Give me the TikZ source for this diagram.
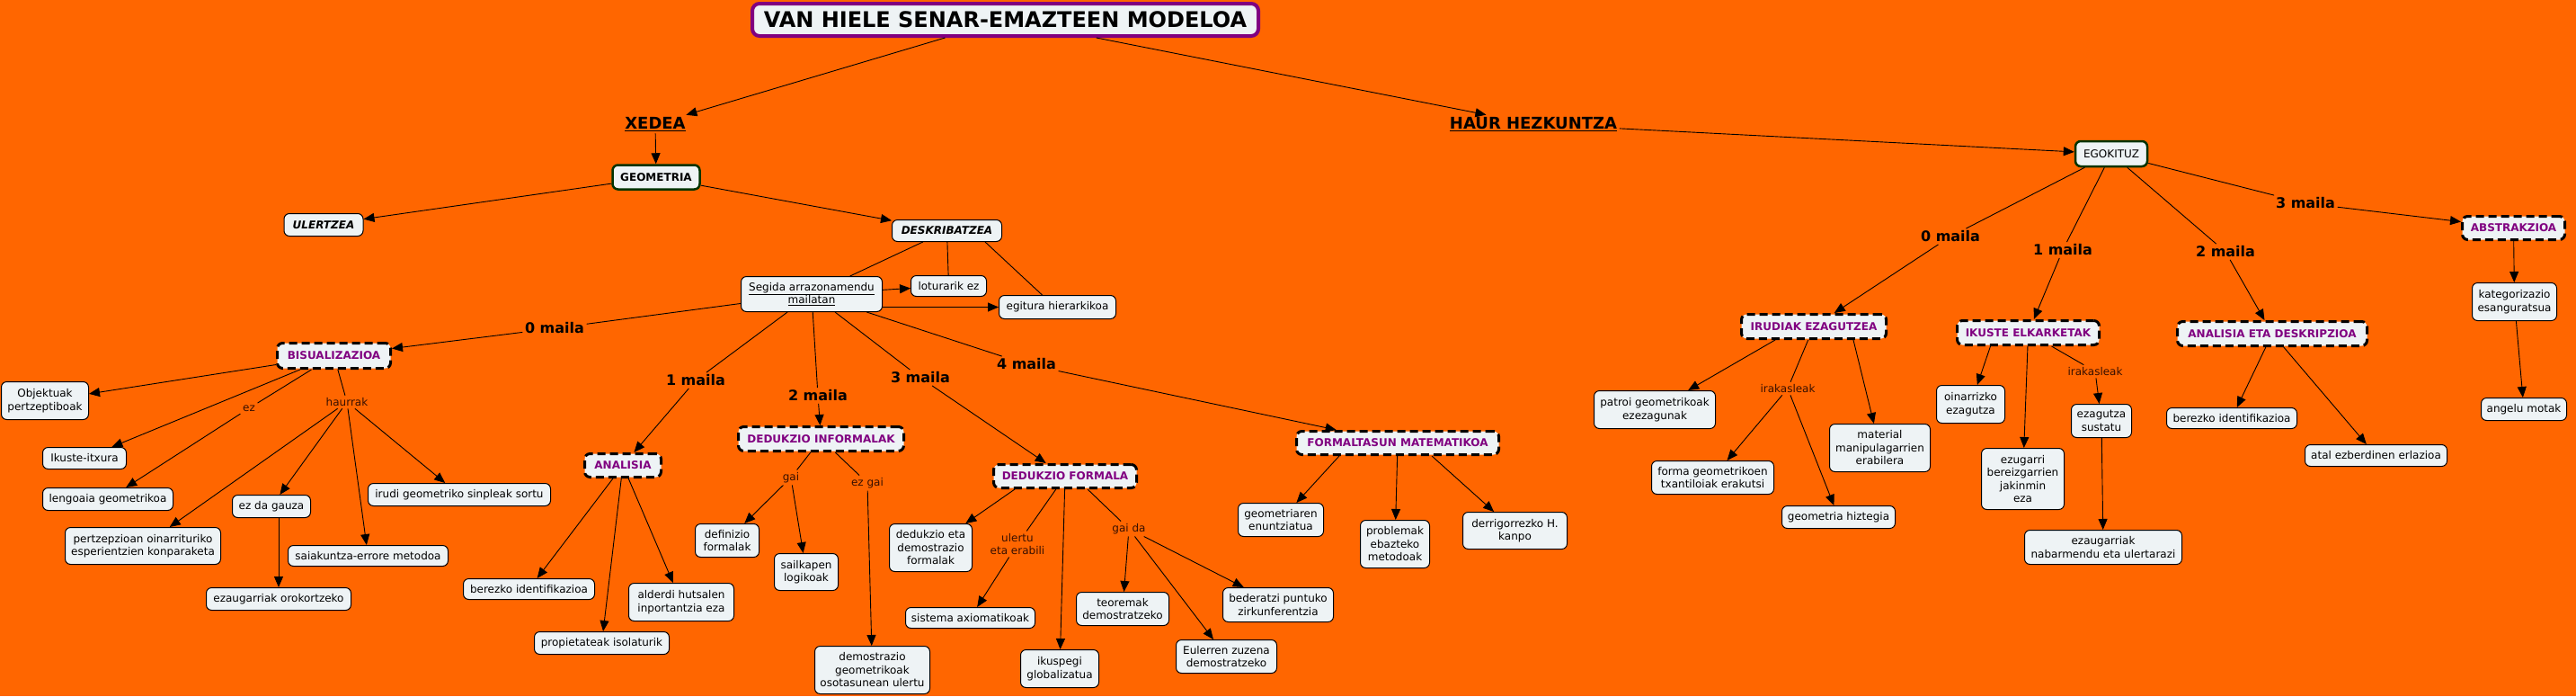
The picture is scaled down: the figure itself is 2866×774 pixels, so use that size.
\documentclass[tikz,border=0pt]{standalone}
\usepackage{fontspec}
\setmainfont{DejaVu Sans}[ItalicFont={DejaVu Sans Oblique},BoldFont={DejaVu Sans Bold},BoldItalicFont={DejaVu Sans Bold Oblique}]
\usetikzlibrary{arrows.meta}
\definecolor{bgor}{RGB}{255,102,0}
\definecolor{nodefill}{RGB}{238,243,245}
\definecolor{purp}{RGB}{128,0,128}
\definecolor{dgreen}{RGB}{0,51,0}
\definecolor{lblc}{RGB}{55,15,0}
\newcommand\myfn{\fontsize{12}{14.5}\selectfont}
\newcommand\myfm{\fontsize{16}{18}\selectfont\bfseries}
\newcommand\myfh{\fontsize{18}{20}\selectfont\bfseries}
\newcommand\myft{\fontsize{24}{28}\selectfont\bfseries}
\tikzset{
 base/.style={draw=black, fill=nodefill, rounded corners=6pt, line width=1pt, inner sep=2pt, align=center, font=\myfn, text=black},
 cbox/.style={base},
 dbox/.style={base, line width=3pt, dash pattern=on 9pt off 5pt, font=\myfn\bfseries, text=purp},
 gbox/.style={base, draw=dgreen, line width=2.5pt},
 lab/.style={inner sep=2.5pt, font=\myfn, text=lblc, align=center},
 mlab/.style={inner sep=2.5pt, font=\myfm, text=black},
 hlab/.style={inner sep=2.5pt, font=\myfh, text=black},
 arr/.style={line width=0.9pt, -{Triangle[length=12pt,width=10pt]}},
 ln/.style={line width=0.9pt},
 sz/.style 2 args={minimum width=#1pt, minimum height=#2pt},
}
\begin{document}
\begin{tikzpicture}[x=1pt,y=-1pt]
\useasboundingbox (0,0) rectangle (2866,774);
\fill[bgor] (0,0) rectangle (2866,774);

% ---------- top ----------
\node[base, draw=purp, line width=4pt, rounded corners=8pt, sz={563}{36}, font=\myft] (title) at (1118.5,22) {VAN HIELE SENAR-EMAZTEEN MODELOA};
\node[hlab] (xedea) at (729,138) {\underline{XEDEA}};
\node[hlab] (haur) at (1706,138) {\underline{HAUR HEZKUNTZA}};

% ---------- left branch ----------
\node[gbox, font=\myfn\bfseries, sz={97}{27}] (geo) at (730,197) {GEOMETRIA};
\node[cbox, font=\myfn\bfseries\itshape, sz={88}{25}] (ulertzea) at (360,250) {ULERTZEA};
\node[cbox, font=\myfn\bfseries\itshape, sz={122}{24}] (desk) at (1053.5,256.5) {DESKRIBATZEA};
\node[cbox, sz={157}{39}] (segida) at (903,327) {\underline{Segida arrazonamendu}\\\underline{mailatan}};
\node[cbox, sz={84}{23}] (loturarik) at (1055.5,318) {loturarik ez};
\node[cbox, sz={130}{26}] (egitura) at (1176.5,341.5) {egitura hierarkikoa};

\node[dbox, sz={126}{28}] (bis) at (371.5,395.5) {BISUALIZAZIOA};
\node[cbox, sz={97}{42}] (objektuak) at (50,445.5) {Objektuak\\pertzeptiboak};
\node[cbox, sz={93}{24}] (ikusteitx) at (94,509.5) {Ikuste-itxura};
\node[cbox, sz={145}{25}] (lengoaia) at (120,555) {lengoaia geometrikoa};
\node[cbox, sz={173}{41}] (pertzepzioan) at (159,607) {pertzepzioan oinarrituriko\\esperientzien konparaketa};
\node[cbox, sz={87}{25}] (ezda) at (302,563) {ez da gauza};
\node[cbox, sz={161}{25}] (ezaugorok) at (310,666) {ezaugarriak orokortzeko};
\node[cbox, sz={178}{23}] (saiakuntza) at (409.5,618) {saiakuntza-errore metodoa};
\node[cbox, sz={203}{25}] (irudi) at (511,550) {irudi geometriko sinpleak sortu};

\node[dbox, sz={85}{26}] (analisia) at (693,517.5) {ANALISIA};
\node[cbox, sz={146}{23}] (berezkoL) at (588.5,655) {berezko identifikazioa};
\node[cbox, sz={150}{25}] (propietateak) at (669.5,715) {propietateak isolaturik};
\node[cbox, sz={117}{42}] (alderdi) at (758,669.5) {alderdi hutsalen\\inportantzia eza};

\node[dbox, sz={184}{27}] (di) at (913.5,488) {DEDUKZIO INFORMALAK};
\node[cbox, sz={71}{37}] (definizio) at (809,601) {definizio\\formalak};
\node[cbox, sz={71}{41}] (sailkapen) at (897,636) {sailkapen\\logikoak};
\node[cbox, sz={128}{53}] (demostrazio) at (970.5,745) {demostrazio\\geometrikoak\\osotasunean ulertu};

\node[dbox, sz={159}{26}] (df) at (1185,529.5) {DEDUKZIO FORMALA};
\node[cbox, sz={92}{53}] (dedukzio) at (1035.5,609) {dedukzio eta\\demostrazio\\formalak};
\node[cbox, sz={144}{23}] (sistema) at (1079.5,687) {sistema axiomatikoak};
\node[cbox, sz={87}{42}] (ikuspegi) at (1179,743.5) {ikuspegi\\globalizatua};
\node[cbox, sz={103}{37}] (teoremak) at (1249,677) {teoremak\\demostratzeko};
\node[cbox, sz={112}{37}] (eulerren) at (1364.5,730) {Eulerren zuzena\\demostratzeko};
\node[cbox, sz={123}{38}] (bederatzi) at (1422,672.5) {bederatzi puntuko\\zirkunferentzia};

\node[dbox, sz={225}{26}] (fm) at (1555,492.5) {FORMALTASUN MATEMATIKOA};
\node[cbox, sz={95}{37}] (geometriaren) at (1425,578) {geometriaren\\enuntziatua};
\node[cbox, sz={77}{53}] (problemak) at (1552,605) {problemak\\ebazteko\\metodoak};
\node[cbox, sz={116}{41}] (derrigorrezko) at (1685.5,590) {derrigorrezko H.\\kanpo};

% ---------- right branch ----------
\node[gbox, sz={80}{28}] (egokituz) at (2349,171) {EGOKITUZ};
\node[dbox, sz={161}{27}] (irudiak) at (2018,363) {IRUDIAK EZAGUTZEA};
\node[cbox, sz={135}{42}] (patroi) at (1841,455.5) {patroi geometrikoak\\ezezagunak};
\node[cbox, sz={136}{37}] (forma) at (1905.5,531) {forma geometrikoen\\txantiloiak erakutsi};
\node[cbox, sz={126}{25}] (hiztegia) at (2045.5,575) {geometria hiztegia};
\node[cbox, sz={112}{53}] (material) at (2091.5,498) {material\\manipulagarrien\\erabilera};

\node[dbox, sz={158}{27}] (ikuste) at (2256.5,370) {IKUSTE ELKARKETAK};
\node[cbox, sz={76}{42}] (oinarrizko) at (2192.5,449.5) {oinarrizko\\ezagutza};
\node[cbox, sz={92}{68}] (ezugarri) at (2250.5,532.5) {ezugarri\\bereizgarrien\\jakinmin\\eza};
\node[cbox, sz={67}{37}] (sustatu) at (2338,468) {ezagutza\\sustatu};
\node[cbox, sz={175}{38}] (nabarmendu) at (2340,608.5) {ezaugarriak\\nabarmendu eta ulertarazi};

\node[dbox, sz={211}{27}] (aed) at (2528,371) {ANALISIA ETA DESKRIPZIOA};
\node[cbox, sz={145}{23}] (berezkoR) at (2483,465) {berezko identifikazioa};
\node[cbox, sz={158}{24}] (atal) at (2643.5,506.5) {atal ezberdinen erlazioa};

\node[dbox, sz={114}{26}] (abs) at (2796.5,253.5) {ABSTRAKZIOA};
\node[cbox, sz={94}{42}] (kategorizazio) at (2797.5,335.5) {kategorizazio\\esanguratsua};
\node[cbox, sz={95}{25}] (angelu) at (2808,455) {angelu motak};

% ---------- link labels ----------
\node[mlab] (m0L) at (617,365) {0 maila};
\node[mlab] (m1L) at (774,423) {1 maila};
\node[mlab] (m2L) at (910,440) {2 maila};
\node[mlab] (m3L) at (1024,420) {3 maila};
\node[mlab] (m4L) at (1142,405) {4 maila};
\node[lab] (ezlab) at (277,454) {ez};
\node[lab] (haurrak) at (386,447) {haurrak};
\node[lab] (gai) at (880,531) {gai};
\node[lab] (ezgai) at (965,537) {ez gai};
\node[lab] (ulertu) at (1132,605) {ulertu\\eta erabili};
\node[lab] (gaida) at (1256,588) {gai da};
\node[mlab] (m0R) at (2170,263) {0 maila};
\node[mlab] (m1R) at (2295,278) {1 maila};
\node[mlab] (m2R) at (2476,280) {2 maila};
\node[mlab] (m3R) at (2565,226) {3 maila};
\node[lab] (irak1) at (1989,432) {irakasleak};
\node[lab] (irak2) at (2331,413) {irakasleak};

% ---------- connectors ----------
\draw[arr] (title) -- (xedea);
\draw[arr] (title) -- (haur);
\draw[arr] (xedea) -- (geo);
\draw[arr] (geo) -- (ulertzea);
\draw[arr] (geo) -- (desk);
\draw[ln] (desk) -- (segida);
\draw[ln] (desk) -- (loturarik);
\draw[ln] ([xshift=-19pt]desk.south east) -- ([xshift=-17pt]egitura.north);
\draw[arr] (segida) -- (loturarik);
\draw[arr] (segida.east |- egitura.west) -- (egitura.west);

\draw[ln] (segida) -- (m0L);  \draw[arr] (m0L) -- (bis);
\draw[ln] (segida) -- (m1L);  \draw[arr] (m1L) -- (analisia);
\draw[ln] (segida) -- (m2L);  \draw[arr] (m2L) -- (di);
\draw[ln] (segida) -- (m3L);  \draw[arr] (m3L) -- (df);
\draw[ln] (segida) -- (m4L);  \draw[arr] (m4L) -- (fm);

\draw[arr] (bis) -- (objektuak);
\draw[arr] (bis) -- (ikusteitx);
\draw[ln] (bis) -- (ezlab);  \draw[arr] (ezlab) -- (lengoaia);
\draw[ln] (bis) -- (haurrak);
\draw[arr] (haurrak) -- (pertzepzioan);
\draw[arr] (haurrak) -- (ezda);
\draw[arr] (haurrak) -- (saiakuntza);
\draw[arr] (haurrak) -- (irudi);
\draw[arr] (ezda.south -| ezaugorok.north) -- (ezaugorok.north);

\draw[arr] (analisia) -- (berezkoL);
\draw[arr] (analisia) -- (propietateak);
\draw[arr] (analisia) -- (alderdi);

\draw[ln] (di) -- (gai);
\draw[arr] (gai) -- (definizio);
\draw[arr] (gai) -- (sailkapen);
\draw[ln] (di) -- (ezgai);
\draw[arr] (ezgai) -- (demostrazio);

\draw[arr] ([xshift=-56pt]df.south) -- (dedukzio);
\draw[ln] (df) -- (ulertu);  \draw[arr] (ulertu) -- (sistema);
\draw[arr] (df) -- (ikuspegi);
\draw[ln] ([xshift=25pt]df.south) -- (gaida);
\draw[arr] (gaida) -- (teoremak);
\draw[arr] (gaida) -- (eulerren);
\draw[arr] (gaida) -- (bederatzi);

\draw[arr] ([xshift=-65pt]fm.south) -- (geometriaren);
\draw[arr] (fm) -- (problemak);
\draw[arr] ([xshift=38pt]fm.south) -- (derrigorrezko);

\draw[arr] (haur) -- (egokituz);
\draw[ln] (egokituz) -- (m0R);  \draw[arr] (m0R) -- (irudiak);
\draw[ln] (egokituz) -- (m1R);  \draw[arr] (m1R) -- (ikuste);
\draw[ln] (egokituz) -- (m2R);  \draw[arr] (m2R) -- (aed);
\draw[ln] (egokituz) -- (m3R);  \draw[arr] (m3R) -- (abs);

\draw[arr] ([xshift=-43pt]irudiak.south) -- (patroi);
\draw[ln] (irudiak) -- (irak1);
\draw[arr] (irak1) -- (forma);
\draw[arr] (irak1) -- (hiztegia);
\draw[arr] ([xshift=44pt]irudiak.south) -- (material);

\draw[arr] ([xshift=-42pt]ikuste.south) -- (oinarrizko);
\draw[arr] (ikuste) -- (ezugarri);
\draw[ln] (ikuste) -- (irak2);
\draw[arr] (irak2) -- (sustatu);
\draw[arr] (sustatu) -- (nabarmendu);

\draw[arr] (aed) -- (berezkoR);
\draw[arr] (aed) -- (atal);

\draw[arr] (abs) -- (kategorizazio);
\draw[arr] (kategorizazio) -- (angelu);
\end{tikzpicture}
\end{document}
